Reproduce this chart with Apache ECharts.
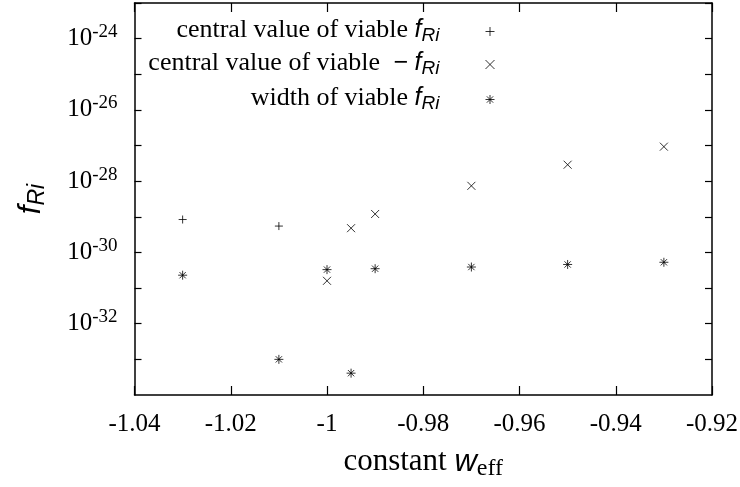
<!DOCTYPE html>
<html>
<head>
<meta charset="utf-8">
<script src="https://cdn.jsdelivr.net/npm/echarts@6/dist/echarts.min.js"></script>
<style>
  html, body { margin: 0; padding: 0; background: #fff; }
  #chart { width: 740px; height: 487px; }
</style>
</head>
<body>
<div id="chart"></div>
<script>
// data
const seriesNames = ['central value of viable f_Ri', 'central value of viable -f_Ri', 'width of viable f_Ri']
const xPlus = [-1.03, -1.01]
const plusVals = [8.4e-30, 5.5e-30]
const xMinus = [-1, -0.995, -0.99, -0.97, -0.95, -0.93]
const minusVals = [1.6e-31, 4.8e-30, 1.2e-29, 7.4e-29, 2.9e-28, 9.3e-28]
const xWidth = [-1.03, -1.01, -1, -0.995, -0.99, -0.97, -0.95, -0.93]
const widthVals = [2.3e-31, 1.0e-33, 3.3e-31, 4.1e-34, 3.5e-31, 3.9e-31, 4.6e-31, 5.3e-31]
const yMinExp = -34
const yMaxExp = -23

const serif = 'Liberation Serif'
const sans = 'Liberation Sans'

const symPlus = 'path://M0,5L10,5M5,0L5,10'
const symCross = 'path://M0,0L10,10M0,10L10,0'
const symStar = 'path://M0,5L10,5M5,0L5,10M1.5,1.5L8.5,8.5M1.5,8.5L8.5,1.5'

const chart = echarts.init(document.getElementById('chart'))

const legendRich = {
  t: { fontFamily: serif, fontSize: 26, color: '#000' },
  f: { fontFamily: sans, fontStyle: 'italic', fontSize: 25, color: '#000' },
  s: { fontFamily: sans, fontStyle: 'italic', fontSize: 19, color: '#000', padding: [12, 0, 0, 0] }
}
const legendLabels = {}
legendLabels[seriesNames[0]] = '{t|central value of viable }{f|f}{s|Ri}'
legendLabels[seriesNames[1]] = '{t|central value of viable  }{f|\u2212 f}{s|Ri}'
legendLabels[seriesNames[2]] = '{t|width of viable }{f|f}{s|Ri}'

const legendTops = [17, 50, 85]
const legends = seriesNames.map((name, i) => ({
  data: [name],
  orient: 'vertical',
  align: 'right',
  right: 245,
  top: legendTops[i],
  padding: 0,
  itemWidth: 9,
  itemHeight: 9,
  selectedMode: false,
  itemStyle: { borderWidth: 1 },
  formatter: n => legendLabels[n],
  textStyle: { rich: legendRich, padding: [0, 41, 3, 0] }
}))

function pairs(xs, ys) {
  return xs.map((x, i) => [x, ys[i]])
}

// the log scale rounds its end ticks to 0: those get no text,
// the min is set a hair below 1e-34 so a real 1e-34 tick is made
function yLabel(v) {
  if (!(v > 0)) return ''
  const e = Math.round(Math.log10(v))
  return e % 2 === 0 ? '{b|10}{e|' + e + '}' : ''
}

const baseY = {
  type: 'log',
  logBase: 10,
  min: 0.9999999999 * Math.pow(10, yMinExp),
  max: Math.pow(10, yMaxExp),
  interval: 1,
  axisLine: { show: true, lineStyle: { color: '#000', width: 1.5 } },
  axisTick: { show: true, inside: true, length: 7, lineStyle: { color: '#000', width: 1.2 } },
  splitLine: { show: false }
}
const baseX = {
  type: 'value',
  min: -1.04,
  max: -0.92,
  interval: 0.02,
  axisLine: { show: true, onZero: false, lineStyle: { color: '#000', width: 1.5 } },
  axisTick: { show: true, inside: true, length: 9, lineStyle: { color: '#000', width: 1.2 } },
  splitLine: { show: false }
}

chart.setOption({
  animation: false,
  backgroundColor: '#fff',
  grid: { left: 134.5, right: 28, top: 3, bottom: 92, containLabel: false, outerBoundsMode: 'none' },
  legend: legends,
  xAxis: [
    Object.assign({}, baseX, {
      position: 'bottom',
      axisLabel: { fontFamily: serif, fontSize: 25, lineHeight: 14, color: '#000', margin: 22 },
      name: '{t|constant }{w|w}{s|eff}',
      nameLocation: 'middle',
      nameGap: 48,
      nameMoveOverlap: false,
      nameTextStyle: {
        rich: {
          t: { fontFamily: serif, fontSize: 31, color: '#000' },
          w: { fontFamily: sans, fontStyle: 'italic', fontSize: 31, color: '#000' },
          s: { fontFamily: serif, fontSize: 24, color: '#000', padding: [14, 0, 0, 0] }
        }
      }
    }),
    Object.assign({}, baseX, { position: 'top', axisLabel: { show: false } })
  ],
  yAxis: [
    Object.assign({}, baseY, {
      position: 'left',
      axisLabel: {
        margin: 17,
        showMinLabel: false,
        showMaxLabel: false,
        formatter: yLabel,
        rich: {
          b: { fontFamily: serif, fontSize: 25, color: '#000' },
          e: { fontFamily: serif, fontSize: 19, color: '#000', padding: [0, 0, 13, 0] }
        }
      },
      name: '{f|f}{s|Ri}',
      nameLocation: 'middle',
      nameGap: 85,
      nameRotate: 90,
      nameMoveOverlap: false,
      nameTextStyle: {
        rich: {
          f: { fontFamily: sans, fontStyle: 'italic', fontSize: 31, color: '#000' },
          s: { fontFamily: sans, fontStyle: 'italic', fontSize: 23, color: '#000', padding: [14, 0, 0, 0] }
        }
      }
    }),
    Object.assign({}, baseY, { position: 'right', axisLabel: { show: false } })
  ],
  series: [
    {
      name: seriesNames[0],
      type: 'scatter',
      data: pairs(xPlus, plusVals),
      symbol: symPlus,
      symbolSize: 8,
      itemStyle: { color: '#000', borderColor: '#000', borderWidth: 1 }
    },
    {
      name: seriesNames[1],
      type: 'scatter',
      data: pairs(xMinus, minusVals),
      symbol: symCross,
      symbolSize: 8,
      itemStyle: { color: '#000', borderColor: '#000', borderWidth: 1 }
    },
    {
      name: seriesNames[2],
      type: 'scatter',
      data: pairs(xWidth, widthVals),
      symbol: symStar,
      symbolSize: 9,
      itemStyle: { color: '#000', borderColor: '#000', borderWidth: 1 }
    }
  ]
})
</script>
</body>
</html>
